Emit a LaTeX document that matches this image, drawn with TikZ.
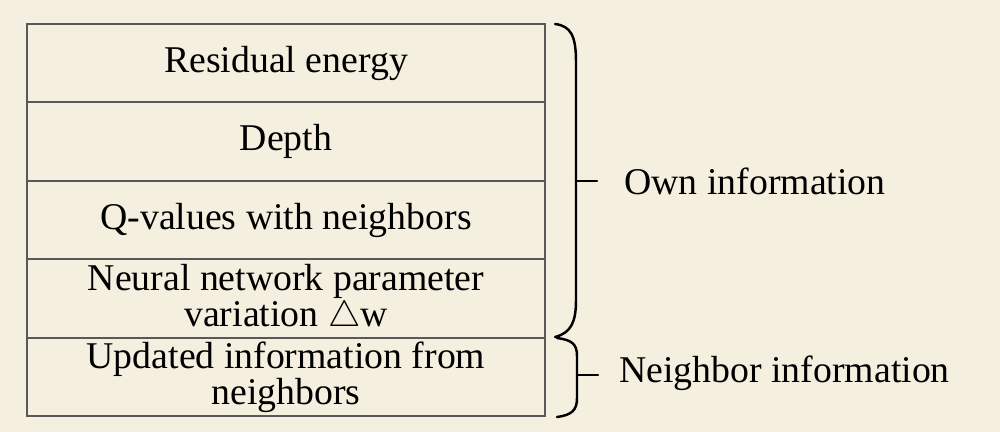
\documentclass[tikz,border=0pt]{standalone}
\usepackage{fontspec}
\setmainfont{Liberation Serif}
\usepackage{xcolor}
\usepackage{tikz}
\usetikzlibrary{positioning,calc}

\definecolor{paper}{RGB}{244,239,223}
\definecolor{rowline}{RGB}{88,88,88}

\begin{document}
\begin{tikzpicture}[x=0.02cm, y=-0.02cm, every node/.style={font=\fontsize{21.5}{20.5}\selectfont},
  field/.style={rectangle, draw=rowline, line width=0.9pt, minimum width=10.36cm, minimum height=1.57cm, align=center, inner sep=0pt},
  bracket/.style={line width=1.4pt, line cap=round}]

\useasboundingbox[fill=paper] (0,0) rectangle (1000,432);

% own information rows
\node[field] (energy) at (286,63) {Residual energy};

\node[field] (depth) at (286,141.5) {Depth};

\node[field] (qvalues) at (286,220) {Q-values with neighbors};

\node[field] (weights) at (286,298.5) {Neural network parameter\\variation $\triangle$w};

% neighbor information row
\node[field] (update) at (286,377) {Updated information from\\neighbors};

% braces
\draw[bracket] (555,24) .. controls (571,26) and (576,36) .. (576,62) -- (576,300)
  .. controls (576,322) and (571,333) .. (555,337);
\coordinate (owntip) at (597,181);
\draw[bracket] (576,181) -- (owntip);

\draw[bracket] (557,338) .. controls (572,340) and (577,344) .. (577,356) -- (577,398)
  .. controls (577,410) and (572,415) .. (557,417);
\coordinate (neightip) at (598,375);
\draw[bracket] (577,375) -- (neightip);

\node[right=0.54cm of owntip, inner sep=0pt] (own) {Own information};
\node[right=0.42cm of neightip, inner sep=0pt, yshift=0.04cm] (neigh) {Neighbor information};

\end{tikzpicture}
\end{document}
